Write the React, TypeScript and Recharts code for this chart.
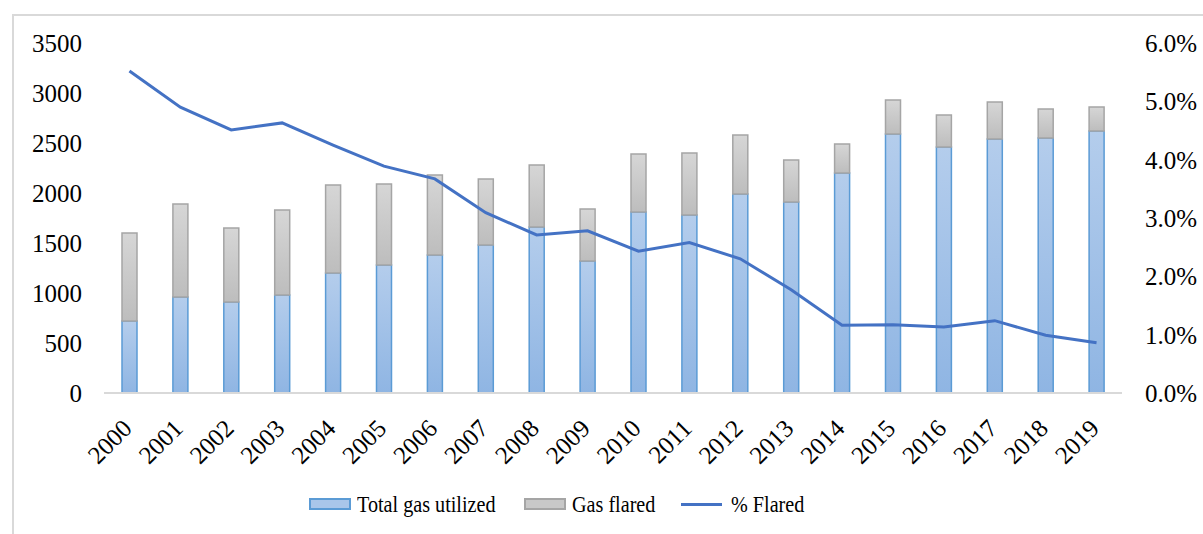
import {
  ComposedChart,
  Bar,
  Line,
  XAxis,
  YAxis,
} from "recharts";

const years = [
  "2000", "2001", "2002", "2003", "2004", "2005", "2006", "2007", "2008", "2009",
  "2010", "2011", "2012", "2013", "2014", "2015", "2016", "2017", "2018", "2019",
];
const gasUtilized = [
  720, 960, 910, 980, 1200, 1280, 1380, 1480, 1660, 1320,
  1810, 1780, 1990, 1910, 2200, 2590, 2460, 2540, 2550, 2620,
];
const gasTotal = [
  1600, 1890, 1650, 1830, 2080, 2090, 2180, 2140, 2280, 1840,
  2390, 2400, 2580, 2330, 2490, 2930, 2780, 2910, 2840, 2860,
];
const pctFlared = [
  5.52, 4.9, 4.51, 4.63, 4.25, 3.89, 3.67, 3.09, 2.71, 2.78,
  2.43, 2.58, 2.3, 1.77, 1.16, 1.17, 1.13, 1.24, 0.99, 0.86,
];
const leftTicks = [0, 500, 1000, 1500, 2000, 2500, 3000, 3500];
const rightTicks = [0, 1, 2, 3, 4, 5, 6];

const data = years.map((year, i) => ({
  year,
  utilized: gasUtilized[i],
  flared: gasTotal[i] - gasUtilized[i],
  pct: pctFlared[i],
}));

const FONT = "'Liberation Serif', 'DejaVu Serif', serif";

function YearTick({ x, y, payload }: { x?: number; y?: number; payload?: { value: string } }) {
  const tx = (x ?? 0) + 4;
  const ty = (y ?? 0) + 29;
  return (
    <text
      x={tx}
      y={ty}
      transform={`rotate(-45, ${tx}, ${ty})`}
      textAnchor="end"
      fontSize={25}
      fontFamily={FONT}
      fill="#000"
    >
      {payload?.value}
    </text>
  );
}

// legend drawn as plain html under the chart, like the excel one
function LegendItem({ kind, label, left }: { kind: "blue" | "gray" | "line"; label: string; left: number }) {
  let swatch;
  if (kind === "line") {
    swatch = <div style={{ width: 41, height: 3, background: "#4472c4", marginTop: 1 }} />;
  } else {
    swatch = (
      <div
        style={{
          width: 42,
          height: 12,
          boxSizing: "border-box",
          background: kind === "blue" ? "#a9c6ea" : "#c8c8c8",
          border: `2px solid ${kind === "blue" ? "#5b9bd5" : "#a5a5a5"}`,
        }}
      />
    );
  }
  return (
    <div style={{ position: "absolute", left, top: 0, height: 30, display: "flex", alignItems: "center" }}>
      {swatch}
      <span
        style={{
          display: "inline-block",
          marginLeft: kind === "line" ? 9 : 6,
          transform: "scaleX(0.84)",
          transformOrigin: "left center",
          whiteSpace: "nowrap",
        }}
      >
        {label}
      </span>
    </div>
  );
}

export default function App() {
  return (
    <div style={{ position: "absolute", left: 0, top: 0, width: 1203, height: 534, background: "#fff", overflow: "hidden" }}>
      <div
        style={{
          position: "absolute",
          left: 12,
          top: 14,
          width: 1220,
          height: 560,
          border: "2px solid #d9d9d9",
          boxSizing: "border-box",
        }}
      />
      <div style={{ position: "absolute", left: 0, top: 0 }}>
        <ComposedChart
          width={1203}
          height={534}
          data={data}
          margin={{ top: 43, right: 0, bottom: 0, left: 0 }}
          barCategoryGap={0}
        >
          <defs>
            <linearGradient id="blueFill" x1="0" y1="0" x2="0" y2="1">
              <stop offset="0%" stopColor="#b4cdec" />
              <stop offset="100%" stopColor="#8fb5e3" />
            </linearGradient>
            <linearGradient id="grayFill" x1="0" y1="0" x2="0" y2="1">
              <stop offset="0%" stopColor="#d6d6d6" />
              <stop offset="100%" stopColor="#bdbdbd" />
            </linearGradient>
          </defs>
          <XAxis
            dataKey="year"
            height={141}
            axisLine={{ stroke: "#d9d9d9", strokeWidth: 2 }}
            tickLine={false}
            tick={<YearTick />}
            interval={0}
          />
          <YAxis
            yAxisId="left"
            width={104}
            domain={[0, 3500]}
            ticks={leftTicks}
            axisLine={false}
            tickLine={false}
            tickMargin={16}
            tick={{ fontSize: 25, fontFamily: FONT, fill: "#000" }}
          />
          <YAxis
            yAxisId="right"
            orientation="right"
            width={81}
            domain={[0, 6]}
            ticks={rightTicks}
            axisLine={false}
            tickLine={false}
            tickMargin={17}
            tickFormatter={(v: number) => `${v.toFixed(1)}%`}
            tick={{ fontSize: 25, fontFamily: FONT, fill: "#000", textAnchor: "start" }}
          />
          <Bar
            yAxisId="left"
            dataKey="utilized"
            stackId="gas"
            barSize={15}
            fill="url(#blueFill)"
            stroke="#5b9bd5"
            strokeWidth={1.5}
            isAnimationActive={false}
          />
          <Bar
            yAxisId="left"
            dataKey="flared"
            stackId="gas"
            barSize={15}
            fill="url(#grayFill)"
            stroke="#a5a5a5"
            strokeWidth={1.5}
            isAnimationActive={false}
          />
          <Line
            yAxisId="right"
            dataKey="pct"
            type="linear"
            stroke="#4472c4"
            strokeWidth={3}
            dot={false}
            isAnimationActive={false}
          />
        </ComposedChart>
      </div>
      <div
        style={{
          position: "absolute",
          left: 0,
          top: 489,
          width: 1203,
          height: 30,
          fontFamily: FONT,
          fontSize: 24,
          color: "#000",
        }}
      >
        <LegendItem kind="blue" label="Total gas utilized" left={309} />
        <LegendItem kind="gray" label="Gas flared" left={524} />
        <LegendItem kind="line" label="% Flared" left={681} />
      </div>
    </div>
  );
}
